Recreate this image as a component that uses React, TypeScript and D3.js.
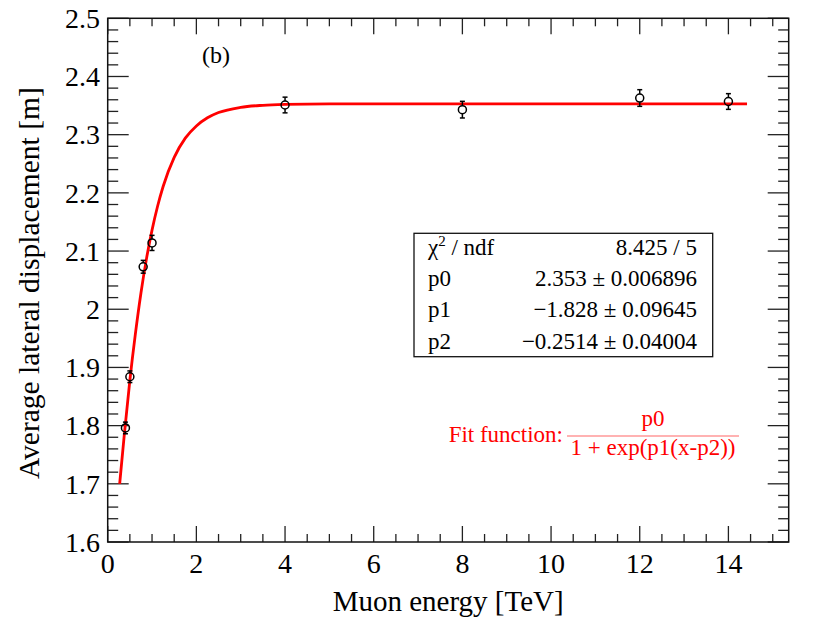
import * as d3 from 'd3'

// measured points: muon energy [TeV] vs average lateral displacement [m]
const energies = [0.4, 0.5, 0.8, 1, 4, 8, 12, 14]
const displacement = [1.796, 1.884, 2.073, 2.114, 2.351, 2.343, 2.363, 2.357]
const displacementErr = [0.01, 0.01, 0.011, 0.013, 0.0135, 0.0143, 0.0143, 0.0135]

// fitted curve
const fitX = [0.27, 0.375, 0.5, 0.625, 0.75, 0.875, 1, 1.125, 1.25, 1.5, 1.75, 2, 2.25, 2.5, 3, 3.5, 4, 5, 6, 8, 10, 12, 14.42]
const fitY = [1.7, 1.785, 1.878, 1.958, 2.028, 2.087, 2.136, 2.177, 2.211, 2.261, 2.294, 2.315, 2.329, 2.338, 2.347, 2.3505, 2.352, 2.353, 2.353, 2.353, 2.353, 2.353, 2.353]

const xTicks = [0, 2, 4, 6, 8, 10, 12, 14]
const yTicks = [1.6, 1.7, 1.8, 1.9, 2.0, 2.1, 2.2, 2.3, 2.4, 2.5]

const statLabels = ['χ', 'p0', 'p1', 'p2']
const statValues = ['8.425 / 5', '2.353 ± 0.006896', '−1.828 ± 0.09645', '−0.2514 ± 0.04004']

const W = 830
const H = 623
const frame = { left: 107.7, right: 788.7, top: 18.3, bottom: 542 }
const font = "'Liberation Serif', 'DejaVu Serif', serif"

export default function App() {
  const x = d3.scaleLinear().domain([0, 15.36]).range([frame.left, frame.right])
  const y = d3.scaleLinear().domain([1.6, 2.5]).range([frame.bottom, frame.top])

  const xMinor = d3.range(0, 15.36, 0.5).filter(v => v % 2 !== 0)
  const yMinor = d3.range(1.6, 2.5, 0.02).filter((_, i) => i % 5 !== 0)

  const fitPts: [number, number][] = fitX.map((v, i) => [v, fitY[i]])
  const line = d3.line<[number, number]>()
    .x(d => x(d[0]))
    .y(d => y(d[1]))
    .curve(d3.curveMonotoneX)

  const tickStroke = '#222'
  const r = 4

  const boxTop = 233.3
  const rowH = 31.2

  return (
    <svg width={W} height={H} style={{ position: 'absolute', left: 0, top: 0, background: '#fff', fontFamily: font }}>
      <rect x={0} y={0} width={W} height={H} fill="#fff" />

      {/* x axis ticks, bottom and top */}
      {xTicks.map(t => (
        <g key={'xt' + t}>
          <line x1={x(t)} x2={x(t)} y1={frame.bottom} y2={frame.bottom - 16} stroke={tickStroke} strokeWidth={1.3} />
          <line x1={x(t)} x2={x(t)} y1={frame.top} y2={frame.top + 16} stroke={tickStroke} strokeWidth={1.3} />
          <text x={x(t)} y={573} fontSize={28} textAnchor="middle">{t}</text>
        </g>
      ))}
      {xMinor.map(t => (
        <g key={'xm' + t}>
          <line x1={x(t)} x2={x(t)} y1={frame.bottom} y2={frame.bottom - 8} stroke={tickStroke} strokeWidth={1.3} />
          <line x1={x(t)} x2={x(t)} y1={frame.top} y2={frame.top + 8} stroke={tickStroke} strokeWidth={1.3} />
        </g>
      ))}

      {/* y axis ticks, left and right */}
      {yTicks.map(t => (
        <g key={'yt' + t}>
          <line x1={frame.left} x2={frame.left + 21} y1={y(t)} y2={y(t)} stroke={tickStroke} strokeWidth={1.3} />
          <line x1={frame.right} x2={frame.right - 21} y1={y(t)} y2={y(t)} stroke={tickStroke} strokeWidth={1.3} />
          <text x={100} y={y(t)} dy="0.35em" fontSize={28} textAnchor="end">{String(+t.toFixed(1))}</text>
        </g>
      ))}
      {yMinor.map(t => (
        <g key={'ym' + t}>
          <line x1={frame.left} x2={frame.left + 10.5} y1={y(t)} y2={y(t)} stroke={tickStroke} strokeWidth={1.3} />
          <line x1={frame.right} x2={frame.right - 10.5} y1={y(t)} y2={y(t)} stroke={tickStroke} strokeWidth={1.3} />
        </g>
      ))}

      <rect x={frame.left} y={frame.top} width={frame.right - frame.left} height={frame.bottom - frame.top}
        fill="none" stroke="#111" strokeWidth={1.5} />

      {/* axis titles */}
      <text x={(frame.left + frame.right) / 2} y={611} fontSize={29} textAnchor="middle">Muon energy [TeV]</text>
      <text transform={`translate(39,${(frame.top + frame.bottom) / 2 + 3}) rotate(-90)`} fontSize={29.5} textAnchor="middle">
        Average lateral displacement [m]
      </text>

      <text x={202} y={63} fontSize={24}>(b)</text>

      {/* fit curve */}
      <path d={line(fitPts) ?? ''} fill="none" stroke="#ff0000" strokeWidth={2.8} />

      {/* data points with error bars */}
      {energies.map((e, i) => {
        const cx = x(e)
        const cy = y(displacement[i])
        const lo = y(displacement[i] - displacementErr[i])
        const hi = y(displacement[i] + displacementErr[i])
        return (
          <g key={'p' + i} stroke="#000" strokeWidth={1.5} fill="none">
            <line x1={cx} x2={cx} y1={hi} y2={cy - r} />
            <line x1={cx} x2={cx} y1={cy + r} y2={lo} />
            <line x1={cx - 2.5} x2={cx + 2.5} y1={hi} y2={hi} />
            <line x1={cx - 2.5} x2={cx + 2.5} y1={lo} y2={lo} />
            <circle cx={cx} cy={cy} r={r} />
          </g>
        )
      })}

      {/* fit statistics box */}
      <rect x={414} y={boxTop} width={298.7} height={123.4} fill="#fff" stroke="#111" strokeWidth={1.3} />
      {statLabels.map((lab, i) => (
        <g key={'s' + i} fontSize={23}>
          <text x={428} y={255 + i * rowH}>
            {i === 0 ? (
              <>
                χ<tspan dy={-9} fontSize={15}>2</tspan><tspan dy={9}> / ndf</tspan>
              </>
            ) : lab}
          </text>
          <text x={697} y={255 + i * rowH} textAnchor="end">{statValues[i]}</text>
        </g>
      ))}

      {/* fit function label */}
      <g fill="#ff0000" fontSize={23}>
        <text x={563} y={442} textAnchor="end">Fit function:</text>
        <text x={653} y={426} textAnchor="middle">p0</text>
        <line x1={567} x2={739} y1={436} y2={436} stroke="#ff0000" strokeWidth={1} opacity={0.6} />
        <text x={653} y={455} textAnchor="middle">1 + exp(p1(x-p2))</text>
      </g>
    </svg>
  )
}
